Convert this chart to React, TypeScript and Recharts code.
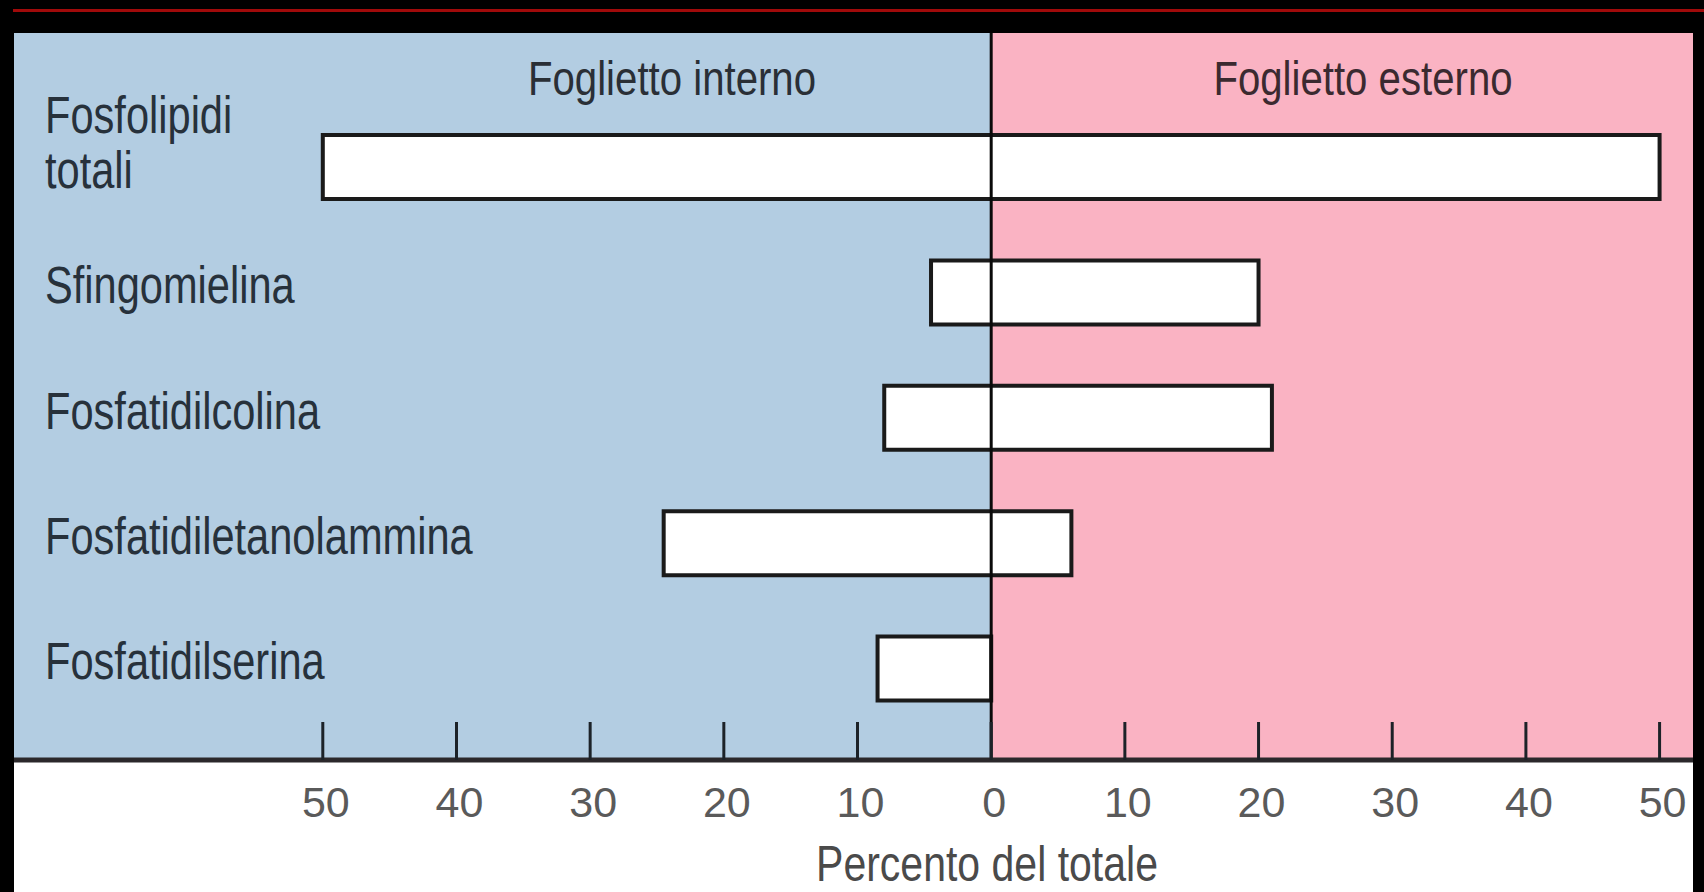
import { BarChart, Bar, XAxis, YAxis, ReferenceArea, ReferenceLine } from 'recharts'

// distribuzione dei fosfolipidi tra i due foglietti (percento del totale)
const categories = [
  'Fosfolipidi totali',
  'Sfingomielina',
  'Fosfatidilcolina',
  'Fosfatidiletanolammina',
  'Fosfatidilserina',
]
const innerLeaflet = [50, 4.5, 8, 24.5, 8.5]
const outerLeaflet = [50, 20, 21, 6, 0]
const xTicks = [-50, -40, -30, -20, -10, 0, 10, 20, 30, 40, 50]

const data = categories.map((name, i) => ({
  name,
  inner: innerLeaflet[i],
  outer: outerLeaflet[i],
}))

// the coloured panels run past the ±50 ticks
const X_MIN = -73.1
const X_MAX = 52.5

const SANS = "'Liberation Sans', Arial, sans-serif"
const BLUE = '#b3cde2'
const PINK = '#fab3c3'

// no narrow font installed: squeeze Liberation Sans horizontally
const Narrow = ({ x, y, size, fill, anchor = 'start', squeeze = 0.8, children }: any) => (
  <text
    transform={`translate(${x} ${y}) scale(${squeeze} 1)`}
    x={0}
    y={0}
    textAnchor={anchor}
    fontFamily={SANS}
    fontSize={size}
    fill={fill}
  >
    {children}
  </text>
)

const CategoryTick = (props: any) => {
  const { y, payload } = props
  const words: string[] = payload.value.split(' ')
  if (words.length > 1) {
    return (
      <g>
        <Narrow x={45} y={y - 34} size={52} fill="#27313b">{words[0]}</Narrow>
        <Narrow x={45} y={y + 21} size={52} fill="#27313b">{words[1]}</Narrow>
      </g>
    )
  }
  return (
    <Narrow x={45} y={y + 11} size={52} fill="#27313b">
      {payload.value}
    </Narrow>
  )
}

const PercentTick = (props: any) => {
  const { x, y, payload } = props
  return (
    <g>
      <line x1={x} x2={x} y1={y - 38} y2={y} stroke="#1c2228" strokeWidth={3} />
      <text x={x + 3} y={y + 57} textAnchor="middle" fontFamily={SANS} fontSize={43} fill="#5a5a5a">
        {Math.abs(payload.value)}
      </text>
    </g>
  )
}

const header = (text: string, cx: number, fill: string) => () => (
  <Narrow x={cx} y={95} size={49} fill={fill} anchor="middle" squeeze={0.82}>
    {text}
  </Narrow>
)

const axisTitle = () => (
  <Narrow x={987} y={881} size={50} fill="#4a4a4a" anchor="middle" squeeze={0.82}>
    Percento del totale
  </Narrow>
)

export default function App() {
  return (
    <div
      style={{
        position: 'absolute',
        left: 0,
        top: 0,
        width: 1704,
        height: 892,
        background: '#000',
        overflow: 'hidden',
      }}
    >
      <div style={{ position: 'absolute', left: 13, top: 9, width: 1691, height: 3, background: '#a00a0a' }} />
      <div style={{ position: 'absolute', left: 14, top: 760, width: 1679, height: 132, background: '#fff' }} />
      <div style={{ position: 'absolute', left: 0, top: 0 }}>
        <BarChart
          width={1704}
          height={892}
          data={data}
          layout="vertical"
          margin={{ top: 33, right: 11, bottom: 0, left: 14 }}
        >
          <XAxis
            type="number"
            domain={[X_MIN, X_MAX]}
            ticks={xTicks}
            allowDataOverflow
            height={132}
            tickSize={0}
            tickMargin={0}
            tickLine={false}
            axisLine={{ stroke: '#2b282b', strokeWidth: 5 }}
            tick={<PercentTick />}
            interval={0}
            label={axisTitle}
          />
          <YAxis
            type="category"
            dataKey="name"
            mirror
            axisLine={false}
            tickLine={false}
            tick={<CategoryTick />}
            padding={{ top: 71, bottom: 29 }}
            interval={0}
          />
          {/* hidden numeric axis without padding, so the panels fill the whole plot height */}
          <YAxis yAxisId="panel" type="number" hide />
          <ReferenceArea
            yAxisId="panel"
            x1={X_MIN}
            x2={0}
            fill={BLUE}
            fillOpacity={1}
            stroke="none"
            label={header('Foglietto interno', 672, '#2a2f36')}
          />
          <ReferenceArea
            yAxisId="panel"
            x1={0}
            x2={X_MAX}
            fill={PINK}
            fillOpacity={1}
            stroke="none"
            label={header('Foglietto esterno', 1363, '#3b2a30')}
          />
          <Bar
            dataKey={(d: any) => [-d.inner, d.outer]}
            fill="#fff"
            stroke="#1a1a1a"
            strokeWidth={4}
            barSize={64}
            isAnimationActive={false}
          />
          <ReferenceLine x={0} stroke="#0a0a0a" strokeWidth={3} />
        </BarChart>
      </div>
    </div>
  )
}
